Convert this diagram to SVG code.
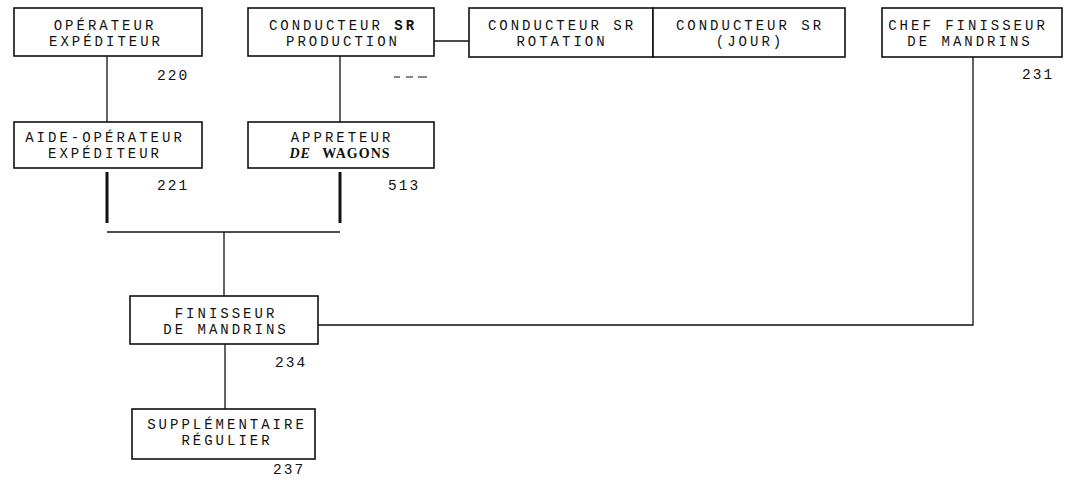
<svg xmlns="http://www.w3.org/2000/svg" width="1084" height="485" viewBox="0 0 1084 485">
<style>
.box{fill:#fff;stroke:#111;stroke-width:1.6}
.t{font-family:"Liberation Mono","Courier New",monospace;font-size:14px;letter-spacing:3px;fill:#111;text-anchor:middle}
.n{font-family:"Liberation Mono","Courier New",monospace;font-size:14.5px;letter-spacing:2px;fill:#111}
.c{fill:none;stroke:#111;stroke-width:1.3}
.thick{fill:none;stroke:#111;stroke-width:3}
.b{font-weight:bold}
.wg{font-family:"Liberation Serif","Times New Roman",serif;font-weight:bold;letter-spacing:1px}
.it{font-family:"Liberation Serif","Times New Roman",serif;font-style:italic;font-weight:bold;letter-spacing:1px}
</style>
<rect width="1084" height="485" fill="#fff"/>
<g id="connectors">
<line class="c" x1="107" y1="56" x2="107" y2="122"/>
<line class="c" x1="340" y1="56" x2="340" y2="122"/>
<line class="c" x1="434" y1="41" x2="469" y2="41"/>
<line class="thick" x1="107" y1="172" x2="107" y2="223"/>
<line class="thick" x1="340" y1="172" x2="340" y2="223"/>
<line class="c" x1="107" y1="232" x2="340" y2="232"/>
<line class="c" x1="224" y1="232" x2="224" y2="296"/>
<line class="c" x1="225" y1="344" x2="225" y2="409"/>
<polyline class="c" points="318,325 973,325 973,57" stroke-width="1.6"/>
</g>
<g id="operateur-expediteur">
<rect class="box" x="14" y="8" width="188" height="48"/>
<text class="t" x="105" y="30">OPÉRATEUR</text>
<text class="t" x="106" y="46">EXPÉDITEUR</text>
<text class="n" x="157" y="80">220</text>
</g>
<g id="conducteur-production">
<rect class="box" x="248" y="8" width="186" height="48"/>
<text class="t" x="343" y="30">CONDUCTEUR <tspan class="b">SR</tspan></text>
<text class="t" x="343" y="46">PRODUCTION</text>
<g stroke="#333" stroke-width="1.2">
<line x1="394" y1="77" x2="400" y2="77"/>
<line x1="406" y1="77" x2="413" y2="77"/>
<line x1="418" y1="77" x2="427" y2="77"/>
</g>
</g>
<g id="conducteur-rotation">
<rect class="box" x="469" y="8" width="184" height="49"/>
<text class="t" x="562" y="30">CONDUCTEUR SR</text>
<text class="t" x="562" y="46">ROTATION</text>
</g>
<g id="conducteur-jour">
<rect class="box" x="653" y="8" width="192" height="49"/>
<text class="t" x="750" y="30">CONDUCTEUR SR</text>
<text class="t" x="750" y="46">(JOUR)</text>
</g>
<g id="chef-finisseur">
<rect class="box" x="882" y="8" width="180" height="49"/>
<text class="t" x="968" y="30">CHEF FINISSEUR</text>
<text class="t" x="970" y="46">DE MANDRINS</text>
<text class="n" x="1022" y="79">231</text>
</g>
<g id="aide-operateur">
<rect class="box" x="14" y="122" width="188" height="46"/>
<text class="t" x="105" y="142">AIDE-OPÉRATEUR</text>
<text class="t" x="105" y="158">EXPÉDITEUR</text>
<text class="n" x="157" y="190">221</text>
</g>
<g id="appreteur">
<rect class="box" x="248" y="122" width="186" height="46"/>
<text class="t" x="342" y="142">APPRETEUR</text>
<text class="t" x="340" y="158"><tspan class="it">DE</tspan> <tspan class="wg">WAGONS</tspan></text>
<text class="n" x="388" y="190">513</text>
</g>
<g id="finisseur">
<rect class="box" x="130" y="296" width="188" height="48"/>
<text class="t" x="226" y="318">FINISSEUR</text>
<text class="t" x="226" y="334">DE MANDRINS</text>
<text class="n" x="275" y="367">234</text>
</g>
<g id="supplementaire">
<rect class="box" x="132" y="409" width="183" height="50"/>
<text class="t" x="227" y="429">SUPPLÉMENTAIRE</text>
<text class="t" x="227" y="445">RÉGULIER</text>
<text class="n" x="273" y="474">237</text>
</g>
</svg>
